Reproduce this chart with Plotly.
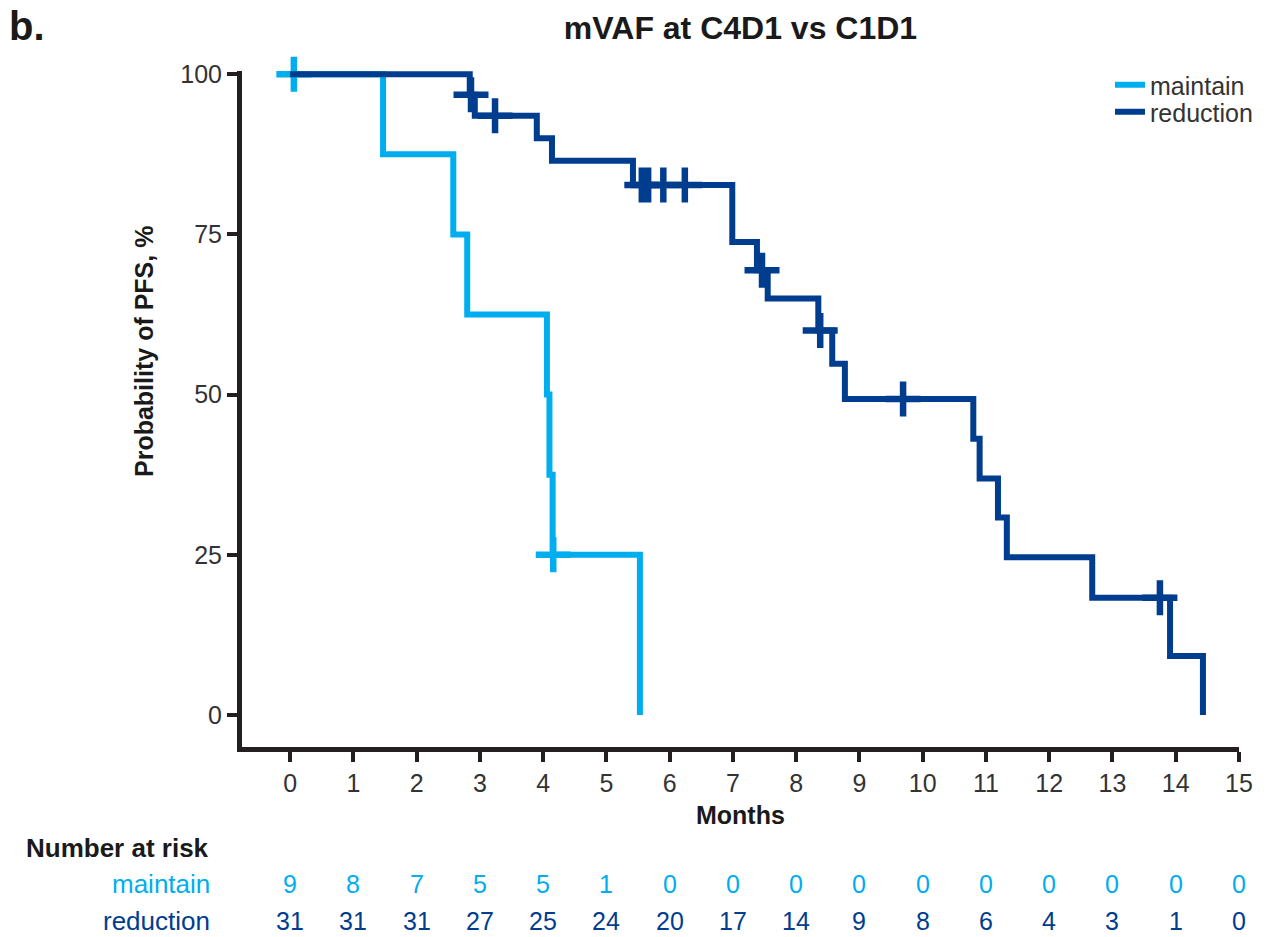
import plotly.graph_objects as go

# ---------------- data ----------------
maintain_times = [0, 1.47, 2.58, 2.80, 4.06, 4.10, 4.15, 5.53]
maintain_surv = [100, 87.5, 75, 62.5, 50, 37.5, 25, 0]
maintain_cens_t = [0.06, 4.16]
maintain_cens_s = [100, 25]

reduction_times = [0, 2.84, 2.92, 3.90, 4.14, 5.42, 6.99, 7.38, 7.55, 8.35, 8.57, 8.77,
                   10.80, 10.90, 11.19, 11.33, 12.68, 13.91, 14.43]
reduction_surv = [100, 96.8, 93.5, 90.0, 86.5, 82.7, 73.8, 69.4, 65.0, 60.0, 54.8, 49.3,
                  43.1, 36.9, 30.8, 24.6, 18.3, 9.2, 0]
reduction_cens_t = [2.86, 3.24, 5.56, 5.66, 5.90, 6.24, 7.46, 8.38, 9.69, 13.75]
reduction_cens_s = [96.8, 93.5, 82.7, 82.7, 82.7, 82.7, 69.4, 60.0, 49.3, 18.3]

risk_months = list(range(0, 16))
risk_maintain = [9, 8, 7, 5, 5, 1, 0, 0, 0, 0, 0, 0, 0, 0, 0, 0]
risk_reduction = [31, 31, 31, 27, 25, 24, 20, 17, 14, 9, 8, 6, 4, 3, 1, 0]

C_MAINT = "#00AEEF"
C_RED = "#003D8F"
C_AX = "#231F20"
C_TXT = "#333333"
C_BOLD = "#1a1a1a"
FONT = "Liberation Sans, Arial, sans-serif"

W, H = 1270, 937
L, R, T, B = 242, 31, 71, 190
PW = W - L - R
PH = H - T - B


def px(xp):
    return (xp - L) / PW


def py(yp):
    return (H - B - yp) / PH


fig = go.Figure()


def add_group(name, times, surv, ct, cs, color, legend):
    fig.add_trace(go.Scatter(x=times, y=surv, mode="lines", name=name,
                             line=dict(color=color, width=6, shape="hv"),
                             showlegend=True, legend=legend, hoverinfo="skip"))
    fig.add_trace(go.Scatter(x=ct, y=cs, mode="markers", name=name + " censored",
                             marker=dict(symbol="cross-thin", size=25, color=color,
                                         line=dict(color=color, width=6.5)),
                             showlegend=False, cliponaxis=False, hoverinfo="skip"))


add_group("maintain", maintain_times, maintain_surv, maintain_cens_t, maintain_cens_s,
          C_MAINT, "legend")
add_group("reduction", reduction_times, reduction_surv, reduction_cens_t, reduction_cens_s,
          C_RED, "legend2")

LBL = 25
annotations = []
annotations.append(dict(text="<b>Number at risk</b>", xref="paper", yref="paper",
                        x=px(24), y=py(848), xanchor="left", yanchor="middle",
                        showarrow=False, font=dict(size=26, color=C_BOLD, family=FONT)))
annotations.append(dict(text="maintain", xref="paper", yref="paper",
                        x=px(212), y=py(884), xanchor="right", yanchor="middle",
                        showarrow=False, font=dict(size=26, color=C_MAINT, family=FONT)))
annotations.append(dict(text="reduction", xref="paper", yref="paper",
                        x=px(212), y=py(921), xanchor="right", yanchor="middle",
                        showarrow=False, font=dict(size=26, color=C_RED, family=FONT)))
for m, a, b in zip(risk_months, risk_maintain, risk_reduction):
    annotations.append(dict(text=str(a), xref="x", yref="paper", x=m, y=py(884),
                            xanchor="center", yanchor="middle", showarrow=False,
                            font=dict(size=LBL, color=C_MAINT, family=FONT)))
    annotations.append(dict(text=str(b), xref="x", yref="paper", x=m, y=py(921),
                            xanchor="center", yanchor="middle", showarrow=False,
                            font=dict(size=LBL, color=C_RED, family=FONT)))
annotations.append(dict(text="<b>b.</b>", xref="paper", yref="paper",
                        x=px(7), y=py(26), xanchor="left", yanchor="middle",
                        showarrow=False, font=dict(size=40, color=C_BOLD, family=FONT)))
annotations.append(dict(text="<b>Probability of PFS, %</b>", xref="paper", yref="paper",
                        x=px(144), y=py(352), xanchor="center", yanchor="middle",
                        textangle=-90, showarrow=False,
                        font=dict(size=25, color=C_BOLD, family=FONT)))
annotations.append(dict(text="<b>Months</b>", xref="paper", yref="paper",
                        x=0.5, y=py(815), xanchor="center", yanchor="middle",
                        showarrow=False, font=dict(size=25, color=C_BOLD, family=FONT)))

leg_common = dict(xanchor="left", yanchor="middle", bgcolor="rgba(0,0,0,0)",
                  font=dict(size=25, color=C_TXT, family=FONT), itemwidth=30)

fig.update_layout(
    width=W, height=H,
    margin=dict(l=L, r=R, t=T, b=B, autoexpand=False),
    paper_bgcolor="white", plot_bgcolor="white",
    font=dict(family=FONT, color=C_TXT, size=LBL),
    title=dict(text="<b>mVAF at C4D1 vs C1D1</b>", x=0.5, xref="paper", xanchor="center",
               y=1 - 28 / H, yanchor="middle", font=dict(size=32, color=C_BOLD, family=FONT)),
    showlegend=True,
    legend=dict(x=px(1110), y=py(85), **leg_common),
    legend2=dict(x=px(1110), y=py(112), **leg_common),
    annotations=annotations,
)

fig.update_xaxes(range=[-0.76, 15], tickmode="array", tickvals=risk_months,
                 showline=True, linewidth=5, linecolor=C_AX, mirror=False,
                 ticks="outside", ticklen=10, tickwidth=4, tickcolor=C_AX,
                 showgrid=False, zeroline=False, tickfont=dict(size=LBL, color=C_TXT))
fig.update_yaxes(range=[-5, 100.5], tickmode="array", tickvals=[0, 25, 50, 75, 100],
                 showline=True, linewidth=5, linecolor=C_AX,
                 ticks="outside", ticklen=10, tickwidth=4, tickcolor=C_AX,
                 showgrid=False, zeroline=False, tickfont=dict(size=LBL, color=C_TXT))

fig.write_html("out.html")
